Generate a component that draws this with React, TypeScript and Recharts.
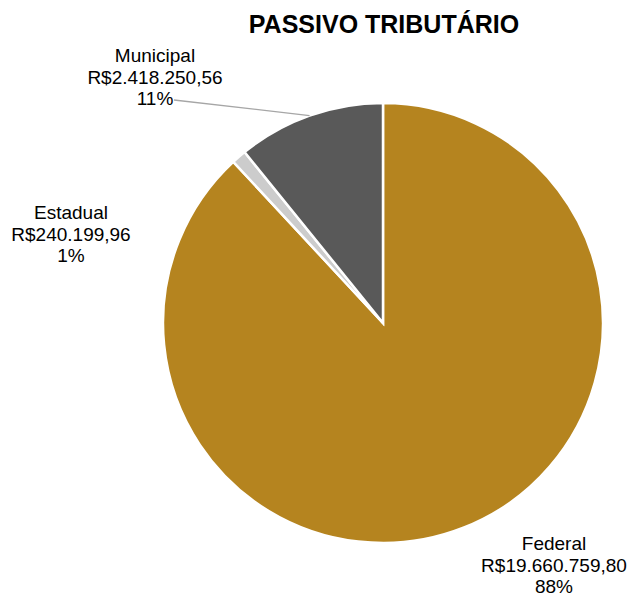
import { PieChart, Pie, Cell } from "recharts";

const CATEGORIES = ["Federal", "Estadual", "Municipal"];
const VALUES = [19660759.8, 240199.96, 2418250.56];
const VALUE_LABELS = ["R$19.660.759,80", "R$240.199,96", "R$2.418.250,56"];
const PERCENT_LABELS = ["88%", "1%", "11%"];
const COLORS = ["#B5841F", "#CCCCCC", "#595959"];

// label anchor offsets from the pie centre (first-line baseline)
const LABEL_OFFSETS = [
  { dx: 171, dy: 227 },
  { dx: -312, dy: -104 },
  { dx: -228, dy: -261 },
];

const data = CATEGORIES.map((name, i) => ({
  name,
  value: VALUES[i],
  valueLabel: VALUE_LABELS[i],
  pct: PERCENT_LABELS[i],
}));

const RAD = Math.PI / 180;

function renderLabel(props: any) {
  const { cx, cy, midAngle, outerRadius, index } = props;
  const d = data[index];
  const off = LABEL_OFFSETS[index];
  const x = cx + off.dx;
  const y = cy + off.dy;
  const ex = cx + outerRadius * Math.cos(-midAngle * RAD);
  const ey = cy + outerRadius * Math.sin(-midAngle * RAD);
  return (
    <g key={`lbl-${index}`}>
      {d.name === "Municipal" && (
        <line x1={x + 19} y1={y + 38} x2={ex} y2={ey} stroke="#A6A6A6" strokeWidth={1.3} />
      )}
      <text
        x={x}
        y={y}
        textAnchor="middle"
        fill="#000"
        fontSize={19}
        fontFamily="'Liberation Sans', Arial, sans-serif"
      >
        <tspan x={x} dy={0}>{d.name}</tspan>
        <tspan x={x} dy={21.5}>{d.valueLabel}</tspan>
        <tspan x={x} dy={21.5}>{d.pct}</tspan>
      </text>
    </g>
  );
}

export default function App() {
  return (
    <div style={{ position: "relative", width: 633, height: 596 }}>
      <style>{`body { margin: 0; }`}</style>
      <div
        style={{
          position: "absolute",
          top: 12,
          left: 0,
          width: 768,
          textAlign: "center",
          fontFamily: "'Liberation Sans', Arial, sans-serif",
          fontWeight: "bold",
          fontSize: 25,
          lineHeight: "25px",
          color: "#000",
        }}
      >
        PASSIVO TRIBUTÁRIO
      </div>
      <PieChart width={633} height={596} margin={{ top: 0, right: 0, bottom: 0, left: 0 }}>
        <Pie
          data={data}
          dataKey="value"
          nameKey="name"
          cx={383}
          cy={323}
          outerRadius={220}
          startAngle={90}
          endAngle={-270}
          stroke="#FFFFFF"
          strokeWidth={2.5}
          label={renderLabel}
          labelLine={false}
          isAnimationActive={false}
        >
          {data.map((_e, i) => (
            <Cell key={i} fill={COLORS[i]} />
          ))}
        </Pie>
      </PieChart>
    </div>
  );
}
